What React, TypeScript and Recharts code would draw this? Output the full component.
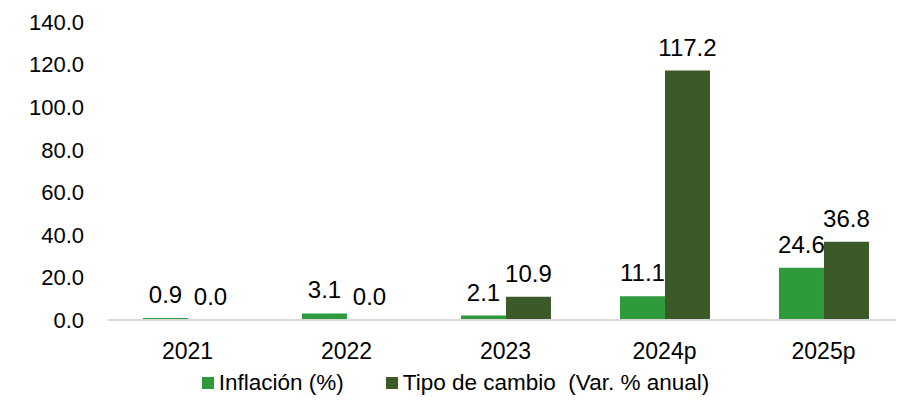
import React from "react";
import { BarChart, Bar, XAxis, YAxis, Legend, Rectangle } from "recharts";

const categories = ["2021", "2022", "2023", "2024p", "2025p"];
const inflacion = [0.9, 3.1, 2.1, 11.1, 24.6];
const tipoCambio = [0.0, 0.0, 10.9, 117.2, 36.8];
const yTicks = [0, 20, 40, 60, 80, 100, 120, 140];

const data = categories.map((c, i) => ({ name: c, inflacion: inflacion[i], tipoCambio: tipoCambio[i] }));

const FONT = "'Liberation Sans', Arial, sans-serif";
const LABEL_OFFSET = 15;

const renderLegend = (props: any) => {
  const { payload } = props;
  return (
    <div style={{ display: "flex", justifyContent: "center", fontFamily: FONT, fontSize: 22.5, color: "#000" }}>
      {payload.map((p: any, i: number) => (
        <div key={i} style={{ display: "flex", alignItems: "center", marginRight: i === 0 ? 42 : 0 }}>
          <span style={{ display: "inline-block", width: 12, height: 12, background: p.color, marginRight: 5 }} />
          <span style={{ whiteSpace: "pre" }}>{p.value}</span>
        </div>
      ))}
    </div>
  );
};

const makeShape = (key: string) => (props: any) => {
  const { x, y, width, height, fill, payload } = props;
  const v = payload ? payload[key] : props.value;
  return (
    <g>
      {height > 0 && <Rectangle x={x} y={y} width={width} height={height} fill={fill} />}
      <text
        x={x + width / 2}
        y={y - LABEL_OFFSET}
        textAnchor="middle"
        fill="#000"
        fontSize={24}
        fontFamily={FONT}
      >
        {Number(v).toFixed(1)}
      </text>
    </g>
  );
};

export default function App() {
  return (
    <BarChart
      width={896}
      height={400}
      data={data}
      margin={{ top: 14, right: 1, left: 0, bottom: 12 }}
      barCategoryGap="22%"
      barGap={0}
    >
      <XAxis
        dataKey="name"
        axisLine={{ stroke: "#d9d9d9", strokeWidth: 2 }}
        tickLine={false}
        tickSize={0}
        tickMargin={23}
        height={50}
        tick={{ fill: "#000", fontSize: 23, fontFamily: FONT }}
      />
      <YAxis
        domain={[0, 140]}
        ticks={yTicks}
        axisLine={false}
        tickLine={false}
        tickSize={0}
        tickMargin={24}
        width={100}
        tickFormatter={(v: number) => v.toFixed(1)}
        tick={{ fill: "#000", fontSize: 22, fontFamily: FONT }}
      />
      <Legend verticalAlign="bottom" content={renderLegend} />
      <Bar
        dataKey="inflacion"
        name="Inflación (%)"
        fill="#2e9a3c"
        isAnimationActive={false}
        shape={makeShape("inflacion")}
      />
      <Bar
        dataKey="tipoCambio"
        name="Tipo de cambio  (Var. % anual)"
        fill="#3b5a27"
        isAnimationActive={false}
        shape={makeShape("tipoCambio")}
      />
    </BarChart>
  );
}
